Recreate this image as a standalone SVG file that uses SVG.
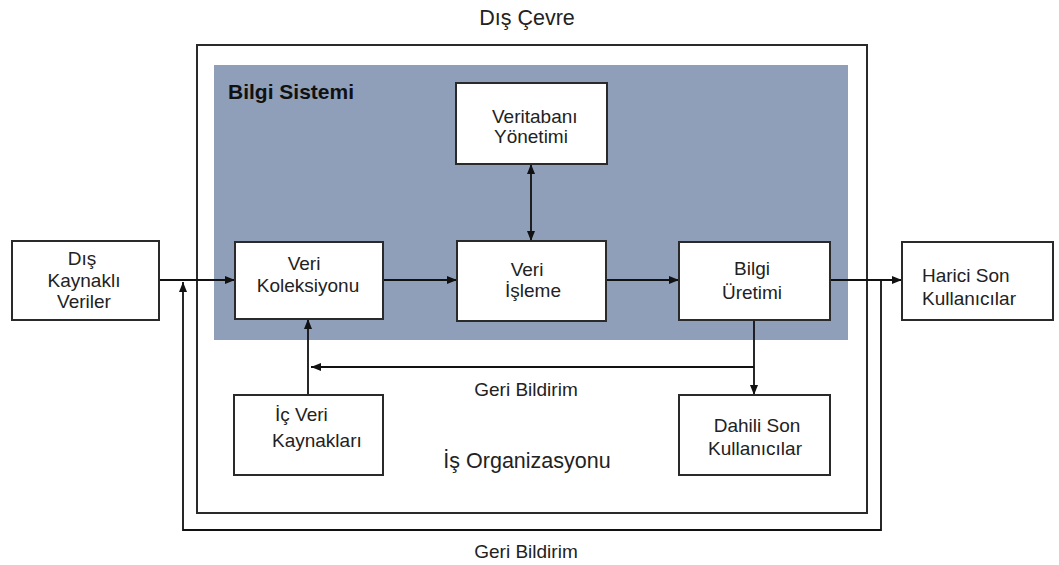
<svg xmlns="http://www.w3.org/2000/svg" width="1059" height="565" viewBox="0 0 1059 565">
<style>
.box{fill:#fff;stroke:#2a2a2a;stroke-width:2}
.t{font-family:"Liberation Sans",Arial,sans-serif;font-size:19px;fill:#222;text-anchor:middle}
.s{text-anchor:start}
.big{font-size:21.5px}
.c{fill:none;stroke:#111;stroke-width:1.8}
</style>
<defs>
<marker id="ah" viewBox="0 0 10 8" refX="10" refY="4" markerWidth="10" markerHeight="8" markerUnits="userSpaceOnUse" orient="auto-start-reverse">
<path d="M0,0 L10,4 L0,8 z" fill="#111"/>
</marker>
</defs>
<rect width="1059" height="565" fill="#fff"/>
<g id="dis-cevre">
<text class="t big" x="527" y="25">Dış Çevre</text>
<text class="t" x="526" y="558">Geri Bildirim</text>
</g>
<g id="is-organizasyonu">
<rect x="197" y="45" width="670" height="468" fill="none" stroke="#2a2a2a" stroke-width="2"/>
<text class="t big" x="527" y="468">İş Organizasyonu</text>
</g>
<g id="bilgi-sistemi">
<rect x="214" y="65" width="634" height="275" fill="#8f9fba"/>
<text x="228" y="99" style="font-family:'Liberation Sans',Arial,sans-serif;font-size:21px;font-weight:bold;fill:#111">Bilgi Sistemi</text>
</g>
<g id="connectors">
<path class="c" d="M159,280 H235" marker-end="url(#ah)"/>
<path class="c" d="M383,280 H457" marker-end="url(#ah)"/>
<path class="c" d="M606,280 H679" marker-end="url(#ah)"/>
<path class="c" d="M830,280 H902" marker-end="url(#ah)"/>
<path class="c" d="M531,164 V241" marker-start="url(#ah)" marker-end="url(#ah)"/>
<path class="c" d="M754,320 V395" marker-end="url(#ah)"/>
<path class="c" d="M754,367 H311" marker-end="url(#ah)"/>
<path class="c" d="M308,395 V319" marker-end="url(#ah)"/>
<path class="c" d="M881,280 V530 H183 V282" marker-end="url(#ah)"/>
<text class="t" x="526" y="396">Geri Bildirim</text>
</g>
<g id="dis-kaynakli-veriler">
<rect class="box" x="12" y="241" width="147" height="79"/>
<text class="t" x="82" y="265">Dış</text>
<text class="t" x="84" y="287">Kaynaklı</text>
<text class="t" x="84" y="308">Veriler</text>
</g>
<g id="veri-koleksiyonu">
<rect class="box" x="235" y="242" width="148" height="77"/>
<text class="t" x="304" y="270">Veri</text>
<text class="t" x="308" y="292">Koleksiyonu</text>
</g>
<g id="veri-isleme">
<rect class="box" x="457" y="241" width="149" height="80"/>
<text class="t" x="527" y="276">Veri</text>
<text class="t" x="533" y="297">İşleme</text>
</g>
<g id="bilgi-uretimi">
<rect class="box" x="679" y="242" width="151" height="78"/>
<text class="t" x="752" y="275">Bilgi</text>
<text class="t" x="752" y="299">Üretimi</text>
</g>
<g id="harici-son-kullanicilar">
<rect class="box" x="902" y="242" width="151" height="78"/>
<text class="t s" x="922" y="282">Harici Son</text>
<text class="t s" x="922" y="305">Kullanıcılar</text>
</g>
<g id="veritabani-yonetimi">
<rect class="box" x="456" y="83" width="151" height="81"/>
<text class="t s" x="492" y="123">Veritabanı</text>
<text class="t s" x="494" y="143">Yönetimi</text>
</g>
<g id="ic-veri-kaynaklari">
<rect class="box" x="234" y="395" width="149" height="80"/>
<text class="t s" x="275" y="421">İç Veri</text>
<text class="t s" x="272" y="447">Kaynakları</text>
</g>
<g id="dahili-son-kullanicilar">
<rect class="box" x="679" y="395" width="151" height="80"/>
<text class="t" x="757" y="432">Dahili Son</text>
<text class="t" x="755" y="455">Kullanıcılar</text>
</g>
</svg>
